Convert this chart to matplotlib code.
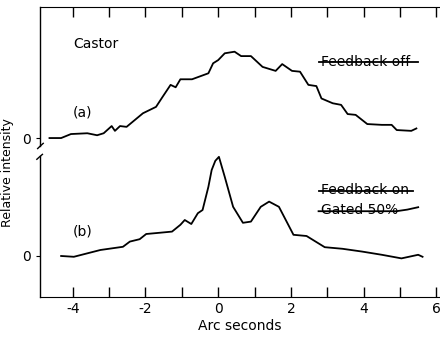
import matplotlib.pyplot as plt
import numpy as np

# curve (a): feedback off, relative to its own baseline
a_x = [-4.64, -4.32, -4.05, -3.6, -3.33, -3.15, -2.93, -2.84, -2.7, -2.52, -2.07, -1.71,
       -1.53, -1.31, -1.17, -1.04, -0.72, -0.54, -0.27, -0.14, 0.0, 0.18, 0.45, 0.63,
       0.9, 1.22, 1.58, 1.76, 2.03, 2.25, 2.48, 2.7, 2.84, 3.15, 3.38, 3.56, 3.78, 4.1,
       4.5, 4.77, 4.91, 5.31, 5.45]
a_y = [0.0, 0.0, 0.1, 0.12, 0.07, 0.12, 0.3, 0.18, 0.3, 0.28, 0.62, 0.78,
       1.03, 1.33, 1.27, 1.47, 1.47, 1.53, 1.62, 1.87, 1.95, 2.12, 2.16, 2.05,
       2.05, 1.78, 1.68, 1.85, 1.68, 1.66, 1.33, 1.3, 0.99, 0.87, 0.83, 0.6, 0.58, 0.35,
       0.33, 0.33, 0.2, 0.18, 0.24]

# curve (b): feedback on, gated 50%
b_x = [-4.32, -3.97, -3.24, -2.62, -2.43, -2.16, -1.98, -1.62, -1.27, -1.04, -0.92, -0.74,
       -0.56, -0.43, -0.27, -0.18, -0.08, 0.02, 0.18, 0.41, 0.68, 0.9, 1.17, 1.4,
       1.67, 2.07, 2.43, 2.93, 3.42, 3.96, 4.5, 5.04, 5.5, 5.62]
b_y = [0.0, -0.02, 0.15, 0.23, 0.36, 0.42, 0.55, 0.58, 0.61, 0.78, 0.9, 0.8,
       1.07, 1.15, 1.73, 2.15, 2.38, 2.48, 1.98, 1.23, 0.83, 0.86, 1.23, 1.36,
       1.23, 0.53, 0.5, 0.22, 0.18, 0.11, 0.03, -0.06, 0.03, -0.02]

a_base = 2.95
b_base = 0.0

fig = plt.figure(figsize=(4.4, 3.39), dpi=100)
ax = fig.add_axes([0.091, 0.124, 0.909, 0.855])

ax.plot(a_x, np.array(a_y) + a_base, color='black', lw=1.3)
ax.plot(b_x, np.array(b_y) + b_base, color='black', lw=1.3)

ax.set_xlim(-4.9, 6.1)
ax.set_ylim(-1.025, 6.225)

ax.set_xticks([-4, -2, 0, 2, 4, 6])
ax.set_xticks(np.arange(-4, 7, 1), minor=True)
ax.set_xticklabels(['-4', '-2', '0', '2', '4', '6'], fontsize=10)
ax.tick_params(axis='x', which='both', direction='in', top=True, length=7, width=1)
ax.set_yticks([b_base, a_base])
ax.set_yticklabels(['0', '0'], fontsize=10)
ax.tick_params(axis='y', direction='out', length=3, right=True)

ax.spines['right'].set_visible(False)
ax.spines['left'].set_visible(False)
# broken left axis
ax.plot([0, 0], [0, 0.485], color='black', lw=1, transform=ax.transAxes, clip_on=False)
ax.plot([0, 0], [0.52, 1], color='black', lw=1, transform=ax.transAxes, clip_on=False)
ax.plot([-0.008, 0.0, 0.006], [0.475, 0.485, 0.492], color='black', lw=1,
        transform=ax.transAxes, clip_on=False)
ax.plot([-0.006, 0.0, 0.008], [0.512, 0.52, 0.53], color='black', lw=1,
        transform=ax.transAxes, clip_on=False)

ax.set_xlabel('Arc seconds', fontsize=10, labelpad=2)
ax.set_ylabel('Relative intensity', fontsize=9)
ax.yaxis.set_label_coords(-0.065, 0.43)

ax.text(-4.0, 5.3, 'Castor', fontsize=10, va='center')
ax.text(-4.0, 3.6, '(a)', fontsize=10, va='center')
ax.text(-4.0, 0.6, '(b)', fontsize=10, va='center')

ax.text(2.82, 4.85, 'Feedback off', fontsize=10, va='center')
ax.plot([2.76, 5.49], [4.85, 4.85], color='black', lw=1.3)
ax.text(2.82, 1.65, 'Feedback on', fontsize=10, va='center')
ax.plot([2.76, 5.35], [1.63, 1.63], color='black', lw=1.3)
ax.text(2.82, 1.15, 'Gated 50%', fontsize=10, va='center')
ax.plot([2.76, 4.9, 5.2, 5.5], [1.12, 1.12, 1.16, 1.22], color='black', lw=1.3)

fig.savefig('out.png', dpi=100)
